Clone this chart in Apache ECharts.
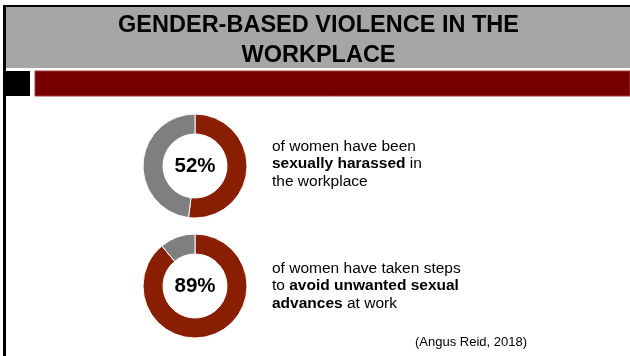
<!DOCTYPE html>
<html><head><meta charset="utf-8">
<script src="https://cdn.jsdelivr.net/npm/echarts@6/dist/echarts.min.js"></script>
<style>html,body{margin:0;padding:0;background:#fff}#c{width:630px;height:356px}</style>
</head><body><div id="c"></div>
<script>
const titleLines = ['GENDER-BASED VIOLENCE IN THE', 'WORKPLACE'];
const statNames = ['Sexually harassed', 'Avoid unwanted advances'];
const statValues = [52, 89];
const statTexts = ['of women have been\n{b|sexually harassed} in\nthe workplace',
                   'of women have taken steps\nto {b|avoid unwanted sexual}\n{b|advances} at work'];
const sourceText = '(Angus Reid, 2018)';

const RED = '#8a1e03', GRAY = '#7f7f7f';
const centersY = [166, 286];
const chart = echarts.init(document.getElementById('c'), null, {renderer: 'canvas'});
const FONT = '"Liberation Sans", Arial, sans-serif';

const series = statValues.map((v, i) => ({
  type: 'pie',
  name: statNames[i],
  center: [195, centersY[i]],
  radius: [32, 52],
  startAngle: 90,
  clockwise: true,
  silent: true,
  animation: false,
  labelLine: {show: false},
  itemStyle: {borderColor: '#fff', borderWidth: 1},
  data: [
    {value: v, name: statNames[i], itemStyle: {color: RED},
     label: {show: true, position: 'center', formatter: '{c}%', fontSize: 20.5, fontWeight: 'bold', color: '#000', fontFamily: FONT}},
    {value: 100 - v, name: 'Other', itemStyle: {color: GRAY}, label: {show: false}}
  ]
}));

const bodyStyle = (t) => ({
  text: t, font: '15.5px ' + FONT, lineHeight: 17.5, fill: '#000', textVerticalAlign: 'middle',
  rich: {b: {font: 'bold 15.5px ' + FONT, lineHeight: 17.5, fill: '#000'}}
});

const graphic = [
  {type: 'rect', shape: {x: 6, y: 7, width: 624, height: 61}, style: {fill: '#a6a6a6'}, z: 0},
  {type: 'rect', shape: {x: 3, y: 5, width: 627, height: 2}, style: {fill: '#000'}, z: 1},
  {type: 'rect', shape: {x: 3, y: 5, width: 3, height: 351}, style: {fill: '#000'}, z: 1},
  {type: 'rect', shape: {x: 3, y: 71, width: 27, height: 25}, style: {fill: '#000'}, z: 1},
  {type: 'rect', shape: {x: 35, y: 71, width: 595, height: 25}, style: {fill: '#760000', stroke: '#a33a3a', lineWidth: 1}, z: 1},
  {type: 'text', x: 318.5, y: 26, style: {text: titleLines[0], font: 'bold 23.5px ' + FONT, fill: '#000', textAlign: 'center', textVerticalAlign: 'middle'}, z: 2},
  {type: 'text', x: 318.5, y: 55.5, style: {text: titleLines[1], font: 'bold 23.5px ' + FONT, fill: '#000', textAlign: 'center', textVerticalAlign: 'middle'}, z: 2},
  {type: 'text', x: 272, y: 164, style: bodyStyle(statTexts[0]), z: 2},
  {type: 'text', x: 272, y: 286, style: bodyStyle(statTexts[1]), z: 2},
  {type: 'text', x: 415, y: 342, style: {text: sourceText, font: '13px ' + FONT, fill: '#000', textVerticalAlign: 'middle'}, z: 2}
];

chart.setOption({backgroundColor: '#fff', animation: false, series, graphic});
</script></body></html>
